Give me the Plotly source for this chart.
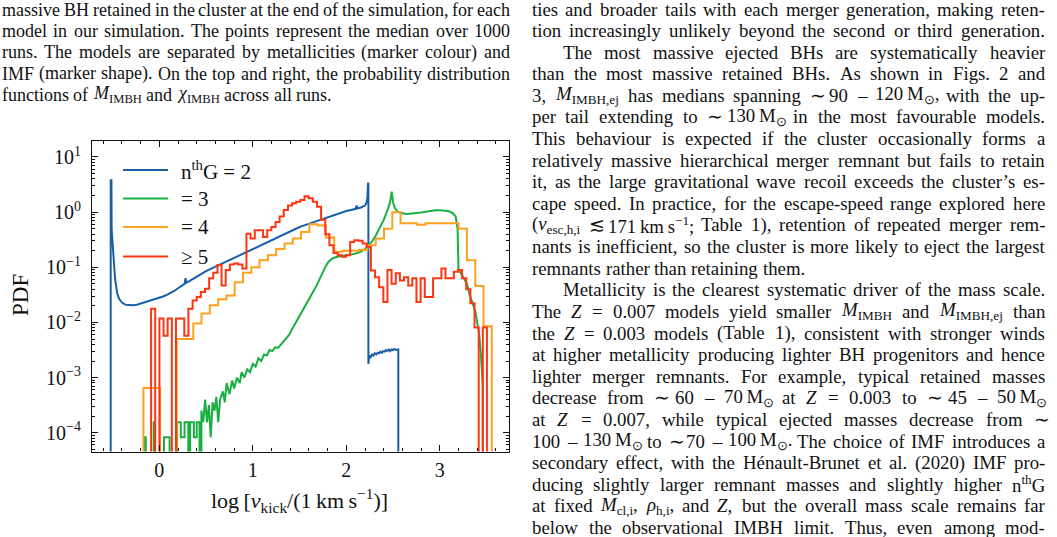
import re
import plotly.graph_objects as go

W_PX, H_PX = 1057, 537
FLOOR = 1e-7  # empty bin (drawn below the visible range)

# ---------------- data (log10 PDF) ----------------
blue_x = [-0.52, -0.52, -0.512, -0.51, -0.50, -0.49, -0.48, -0.47, -0.46, -0.45, -0.43, -0.40,
          -0.36, -0.32, -0.28, -0.24, -0.20, -0.16, -0.12, -0.08, -0.04, 0.00, 0.04, 0.08,
          0.12, 0.16, 0.20, 0.24, 0.27, 0.28, 0.29, 0.32, 0.36, 0.40, 0.45, 0.50, 0.55,
          0.60, 0.65, 0.70, 0.75, 0.80, 0.85, 0.90, 0.95, 1.00, 1.05, 1.10, 1.15, 1.20,
          1.25, 1.30, 1.35, 1.40, 1.45, 1.50, 1.55, 1.60, 1.65, 1.70, 1.75, 1.80, 1.85,
          1.90, 1.95, 2.00, 2.05, 2.10, 2.11, 2.12, 2.15, 2.18, 2.20, 2.215, 2.225, 2.232,
          2.236, 2.236, 2.245, 2.26, 2.275, 2.29, 2.305, 2.32, 2.335, 2.35, 2.365, 2.38,
          2.395, 2.41, 2.425, 2.44, 2.455, 2.47, 2.485, 2.50, 2.515, 2.53, 2.545, 2.556, 2.556]
blue_logpdf = [None, 0.58, 0.58, -0.30, -0.60, -0.85, -1.05, -1.25, -1.38, -1.47, -1.57, -1.64,
               -1.68, -1.69, -1.69, -1.68, -1.66, -1.64, -1.62, -1.60, -1.58, -1.56, -1.53, -1.50,
               -1.47, -1.43, -1.38, -1.33, -1.30, -1.20, -1.28, -1.25, -1.21, -1.17, -1.11, -1.07, -1.03,
               -0.99, -0.95, -0.91, -0.87, -0.83, -0.78, -0.74, -0.70, -0.66, -0.62, -0.58, -0.54, -0.50,
               -0.46, -0.42, -0.38, -0.34, -0.31, -0.27, -0.24, -0.21, -0.18, -0.15, -0.12, -0.09, -0.06,
               -0.03, -0.01, 0.02, 0.04, 0.06, 0.12, 0.065, 0.08, 0.10, 0.12, 0.17, 0.25, 0.52,
               0.52, -2.75, -2.60, -2.63, -2.58, -2.60, -2.56, -2.58, -2.55, -2.56, -2.53, -2.55,
               -2.52, -2.53, -2.50, -2.52, -2.49, -2.52, -2.49, -2.50, -2.48, -2.50, -2.49, -2.49, None]

green_x = [-0.16, -0.16, -0.145, -0.145, -0.06, -0.06, -0.05, -0.05, 0.05, 0.05, 0.11, 0.11,
           0.19, 0.19, 0.23, 0.23, 0.27, 0.27, 0.31, 0.31, 0.33, 0.33, 0.37, 0.37, 0.40, 0.40,
           0.43, 0.43, 0.45, 0.45, 0.47, 0.49, 0.51, 0.53, 0.55, 0.57, 0.59, 0.61, 0.63,
           0.65, 0.68, 0.70, 0.72, 0.75, 0.78, 0.80, 0.83, 0.86, 0.88, 0.91, 0.94, 0.97, 1.00,
           1.03, 1.06, 1.09, 1.12, 1.15, 1.18, 1.21, 1.24, 1.27, 1.30, 1.33, 1.36, 1.39, 1.42,
           1.45, 1.48, 1.51, 1.54, 1.57, 1.60, 1.63, 1.66, 1.69, 1.72, 1.75, 1.78, 1.81, 1.85,
           1.90, 1.95, 2.00, 2.05, 2.10, 2.15, 2.20, 2.24, 2.28, 2.31, 2.34, 2.37, 2.40, 2.43,
           2.45, 2.47, 2.485, 2.50, 2.52, 2.55, 2.60, 2.65, 2.70, 2.75, 2.80, 2.85, 2.90, 2.95,
           3.00, 3.05, 3.10, 3.14, 3.17, 3.19, 3.20, 3.23, 3.26, 3.29, 3.32, 3.35, 3.38, 3.40,
           3.42, 3.44, 3.45, 3.455, 3.46, 3.46]
green_logpdf = [None, -4.08, -4.08, None, None, -3.81, -3.81, None, None, -4.08, -4.08, None,
                None, -3.81, -3.81, -4.08, -4.08, -3.81, -3.81, None, None, -3.81, -3.81, -4.08, -4.08, -3.81,
                -3.81, None, None, -3.60, -3.81, -3.40, -3.81, -3.50, -4.08, -3.45, -3.60, -3.35, -3.81,
                -3.40, -3.25, -3.45, -3.10, -3.30, -3.05, -3.20, -3.00, -3.10, -2.90, -3.00, -2.85, -2.90, -2.75,
                -2.80, -2.65, -2.70, -2.58, -2.60, -2.50, -2.52, -2.45, -2.46, -2.40, -2.36, -2.30, -2.22, -2.12,
                -2.02, -1.94, -1.85, -1.76, -1.68, -1.60, -1.50, -1.40, -1.30, -1.19, -1.08, -0.98, -0.90, -0.84,
                -0.81, -0.80, -0.79, -0.77, -0.75, -0.72, -0.67, -0.60, -0.52, -0.44, -0.35, -0.24, -0.14, -0.02,
                0.08, 0.20, 0.37, 0.18, 0.07, 0.01, -0.02, -0.035, -0.03, -0.015, -0.005, 0.01, 0.025, 0.035,
                0.035, 0.03, 0.015, -0.02, -0.08, -0.30, -1.05, -1.12, -1.20, -1.30, -1.50, -1.65, -1.80, -2.00,
                -2.20, -2.60, -3.00, -3.15, -3.15, None]

orange_edges = [-0.170, -0.081, 0.008, 0.097, 0.185, 0.274, 0.363, 0.451, 0.540, 0.629, 0.718,
                0.806, 0.895, 0.984, 1.072, 1.161, 1.250, 1.339, 1.427, 1.516, 1.605, 1.693,
                1.782, 1.871, 1.960, 2.048, 2.137, 2.226, 2.314, 2.403, 2.492, 2.580, 2.669,
                2.758, 2.846, 2.935, 3.024, 3.113, 3.201, 3.290, 3.379, 3.467, 3.556]
orange_logpdf = [-3.19, -3.19, None, None, -2.30, -2.30, -2.02, -1.84, -1.69, -1.58, -1.51,
                 -1.27, -1.10, -1.00, -0.87, -0.78, -0.67, -0.57, -0.48, -0.36, -0.22, -0.24,
                 -0.46, -0.72, -0.70, -0.70, -0.68, -0.60, -0.48, -0.30, 0.00, -0.20, -0.20,
                 -0.23, -0.20, -0.20, -0.20, -0.20, -0.30, -0.87, -1.34, -2.07]

red_edges = [-0.088, -0.044, 0.001, 0.045, 0.089, 0.134, 0.178, 0.222, 0.267, 0.311, 0.356,
             0.400, 0.444, 0.489, 0.533, 0.577, 0.622, 0.666, 0.710, 0.755, 0.799, 0.843,
             0.888, 0.932, 0.976, 1.021, 1.065, 1.109, 1.154, 1.198, 1.243, 1.287, 1.331,
             1.376, 1.420, 1.464, 1.509, 1.553, 1.597, 1.642, 1.686, 1.730, 1.775, 1.819,
             1.863, 1.908, 1.952, 1.996, 2.041, 2.085, 2.130, 2.174, 2.218, 2.263, 2.307,
             2.351, 2.396, 2.440, 2.484, 2.529, 2.573, 2.617, 2.662, 2.706, 2.750, 2.795,
             2.839, 2.883, 2.928, 2.972, 3.017, 3.061, 3.105, 3.150, 3.194, 3.238, 3.283,
             3.327, 3.371, 3.416, 3.460, 3.504]
red_logpdf = [-1.75, None, -1.93, -2.24, -1.93, None, -1.93, -1.93, -2.24, -1.75, -1.60,
              -1.54, -1.45, -1.39, -1.20, -1.10, -0.96, -1.33, -1.05, -0.95, -0.93, -0.95,
              -1.02, -0.39, -0.48, -0.33, -0.33, -0.45, -0.33, -0.27, -0.18, -0.08, 0.04,
              0.12, 0.16, 0.19, 0.22, 0.29, 0.25, 0.19, 0.10, -0.14, -0.40, -0.60,
              -0.74, -0.78, -0.81, -0.78, -0.54, -0.51, -0.52, -0.57, -0.63, -1.06, -1.18,
              -1.36, -1.63, -1.05, -1.30, -1.11, -1.24, -1.18, -1.33, -1.20, -1.63, -1.20,
              -1.54, -1.54, -1.20, -1.20, -1.02, -1.20, -1.20, -1.08, -1.05, -1.20, -1.40,
              -1.65, -2.09, None, -2.09]

series_names = ["n<sup>th</sup>G = 2", "= 3", "= 4", "≥ 5"]
series_colors = ["#1b5ea8", "#17b041", "#ffa11c", "#ff3512"]

xtick_vals = [0, 1, 2, 3]
ytick_vals = [1e-4, 1e-3, 1e-2, 1e-1, 1e0, 1e1]
ytick_text = ["10<sup>−4</sup>", "10<sup>−3</sup>", "10<sup>−2</sup>",
              "10<sup>−1</sup>", "10<sup>0</sup>", "10<sup>1</sup>"]

x_title = "log\u2009[<i>v</i><sub>kick</sub>/(1\u2009km\u2009s<sup>−1</sup>)]"
y_title = "PDF"

caption_lines = [
    "massive BH retained in the cluster at the end of the simulation, for each",
    "model in our simulation. The points represent the median over 1000",
    "runs. The models are separated by metallicities (marker colour) and",
    "IMF (marker shape). On the top and right, the probability distribution",
    "functions of <i>M</i><sub>IMBH</sub> and <i>χ</i><sub>IMBH</sub> across all runs.",
]
caption_justify = [True, True, True, True, False]

body_lines = [
    "ties and broader tails with each merger generation, making reten-",
    "tion increasingly unlikely beyond the second or third generation.",
    "The most massive ejected BHs are systematically heavier",
    "than the most massive retained BHs. As shown in Figs. 2 and",
    "3, <i>M</i><sub>IMBH,ej</sub> has medians spanning ∼ 90 – 120\u2009M<sub>⊙</sub>, with the up-",
    "per tail extending to ∼ 130\u2009M<sub>⊙</sub> in the most favourable models.",
    "This behaviour is expected if the cluster occasionally forms a",
    "relatively massive hierarchical merger remnant but fails to retain",
    "it, as the large gravitational wave recoil exceeds the cluster’s es-",
    "cape speed. In practice, for the escape-speed range explored here",
    "(<i>v</i><sub>esc,h,i</sub> ≲ 171\u2009km\u2009s<sup>−1</sup>; Table 1), retention of repeated merger rem-",
    "nants is inefficient, so the cluster is more likely to eject the largest",
    "remnants rather than retaining them.",
    "Metallicity is the clearest systematic driver of the mass scale.",
    "The <i>Z</i> = 0.007 models yield smaller <i>M</i><sub>IMBH</sub> and <i>M</i><sub>IMBH,ej</sub> than",
    "the <i>Z</i> = 0.003 models (Table 1), consistent with stronger winds",
    "at higher metallicity producing lighter BH progenitors and hence",
    "lighter merger remnants. For example, typical retained masses",
    "decrease from ∼ 60 – 70\u2009M<sub>⊙</sub> at <i>Z</i> = 0.003 to ∼ 45 – 50\u2009M<sub>⊙</sub>",
    "at <i>Z</i> = 0.007, while typical ejected masses decrease from ∼",
    "100 – 130\u2009M<sub>⊙</sub> to ∼ 70 – 100\u2009M<sub>⊙</sub>. The choice of IMF introduces a",
    "secondary effect, with the Hénault-Brunet et al. (2020) IMF pro-",
    "ducing slightly larger remnant masses and slightly higher n<sup>th</sup>G",
    "at fixed <i>M</i><sub>cl,i</sub>, <i>ρ</i><sub>h,i</sub>, and <i>Z</i>, but the overall mass scale remains far",
    "below the observational IMBH limit. Thus, even among mod-",
]
body_indent = {2, 13}
body_nojustify = {12}

# ---------------- helpers ----------------
def to_pdf(logs):
    return [FLOOR if v is None else 10 ** v for v in logs]


def step_xy(edges, logs):
    return [edges[0]] + list(edges), [FLOOR] + to_pdf(logs) + [FLOOR]


TW = dict(zip("abcdefghijklmnopqrstuvwxyz",
              [444, 500, 444, 500, 444, 333, 500, 500, 278, 278, 500, 278, 778, 500, 500, 500,
               500, 333, 389, 278, 500, 500, 722, 500, 500, 444]))
TW.update(zip("ABCDEFGHIJKLMNOPQRSTUVWXYZ",
              [722, 667, 667, 722, 611, 556, 722, 722, 333, 389, 722, 611, 889, 722, 722, 556,
               722, 667, 556, 611, 722, 722, 944, 722, 722, 611]))
TW.update({c: 500 for c in "0123456789"})
TW.update({" ": 250, ",": 250, ".": 250, "-": 333, "(": 333, ")": 333, ";": 278, ":": 278,
           "’": 333, "'": 180, "∼": 560, "–": 500, "=": 564, "≲": 600, "⊙": 700, "χ": 550,
           "ρ": 500, "é": 444, "−": 564, "\u2009": 167, "≥": 549})


def text_width(s, size):
    total, scale = 0.0, 1.0
    for tok in re.split(r"(<[^>]+>)", s):
        if tok.startswith("<"):
            if tok in ("<sub>", "<sup>"):
                scale = 0.7
            elif tok in ("</sub>", "</sup>"):
                scale = 1.0
            continue
        for ch in tok:
            total += TW.get(ch, 500) * scale
    return total * size / 1000.0


SERIF = "Liberation Serif, Times New Roman, serif"
INK = "#111111"


def add_text_line(fig, text, x0, x1, yc, justify, size, indent=0.0):
    words = text.split(" ")
    widths = [text_width(w, size) for w in words]
    start = x0 + indent
    if justify and len(words) > 1:
        gap = (x1 - start - sum(widths)) / (len(words) - 1)
    else:
        gap = 0.25 * size
    x = start
    for w, wd in zip(words, widths):
        fig.add_annotation(x=x / W_PX, y=1 - yc / H_PX, xref="paper", yref="paper",
                           text=w, showarrow=False, xanchor="left", yanchor="middle",
                           font=dict(family=SERIF, size=size, color=INK),
                           borderpad=0, borderwidth=0)
        x += wd + gap


# ---------------- figure ----------------
fig = go.Figure()

traces = [
    (blue_x, to_pdf(blue_logpdf), "linear"),
    (green_x, to_pdf(green_logpdf), "linear"),
    (*step_xy(orange_edges, orange_logpdf), "hv"),
    (*step_xy(red_edges, red_logpdf), "hv"),
]
for i, (xs, ys, shape) in enumerate(traces):
    fig.add_trace(go.Scatter(x=xs, y=ys, mode="lines", name=series_names[i],
                             line=dict(color=series_colors[i], width=2, shape=shape),
                             hoverinfo="skip", showlegend=False))

axis_common = dict(showline=True, linecolor=INK, linewidth=1.2, mirror="allticks",
                   ticks="inside", ticklen=6, tickwidth=1, tickcolor=INK,
                   showgrid=False, zeroline=False,
                   tickfont=dict(family=SERIF, size=20, color=INK))

fig.update_layout(
    width=W_PX, height=H_PX,
    margin=dict(l=0, r=0, t=0, b=0),
    paper_bgcolor="white", plot_bgcolor="white",
    xaxis=dict(domain=[92 / W_PX, 509 / W_PX], range=[-0.72, 3.74], tickvals=xtick_vals,
               minor=dict(dtick=0.2, tick0=0, ticks="inside", ticklen=3, tickwidth=0.8,
                          tickcolor=INK),
               **axis_common),
    yaxis=dict(domain=[85.5 / H_PX, 396 / H_PX], type="log", range=[-4.34, 1.29],
               tickvals=ytick_vals, ticktext=ytick_text, ticklabelstandoff=6,
               minor=dict(dtick="D1", ticks="inside", ticklen=3, tickwidth=0.8,
                          tickcolor=INK),
               **axis_common),
    showlegend=False,
)

# legend (drawn in the upper-left corner of the axes)
legend_rows_y = [170, 198.5, 227, 256.5]
for name, color, yc in zip(series_names, series_colors, legend_rows_y):
    fig.add_shape(type="line", xref="paper", yref="paper",
                  x0=123 / W_PX, x1=168 / W_PX, y0=1 - yc / H_PX, y1=1 - yc / H_PX,
                  line=dict(color=color, width=2))
    fig.add_annotation(x=181 / W_PX, y=1 - yc / H_PX, xref="paper", yref="paper", text=name,
                       showarrow=False, xanchor="left", yanchor="middle",
                       font=dict(family=SERIF, size=21, color=INK), borderpad=0, borderwidth=0)

# axis titles
fig.add_annotation(x=299 / W_PX, y=1 - 500 / H_PX, xref="paper", yref="paper", text=x_title,
                   showarrow=False, xanchor="center", yanchor="middle",
                   font=dict(family=SERIF, size=22, color=INK))
fig.add_annotation(x=20 / W_PX, y=1 - 295 / H_PX, xref="paper", yref="paper", text=y_title,
                   showarrow=False, xanchor="center", yanchor="middle", textangle=-90,
                   font=dict(family=SERIF, size=23, color=INK))

# surrounding page text
cap_y = [10, 31.5, 52.5, 73.5, 94.5]
for line, yc, j in zip(caption_lines, cap_y, caption_justify):
    add_text_line(fig, line, 2, 510, yc, j, 18)

for i, line in enumerate(body_lines):
    yc = 9 + 21.6 * i
    add_text_line(fig, line, 532, 1045, yc, i not in body_nojustify, 18.8,
                  indent=31 if i in body_indent else 0)

fig.write_html("out.html")
